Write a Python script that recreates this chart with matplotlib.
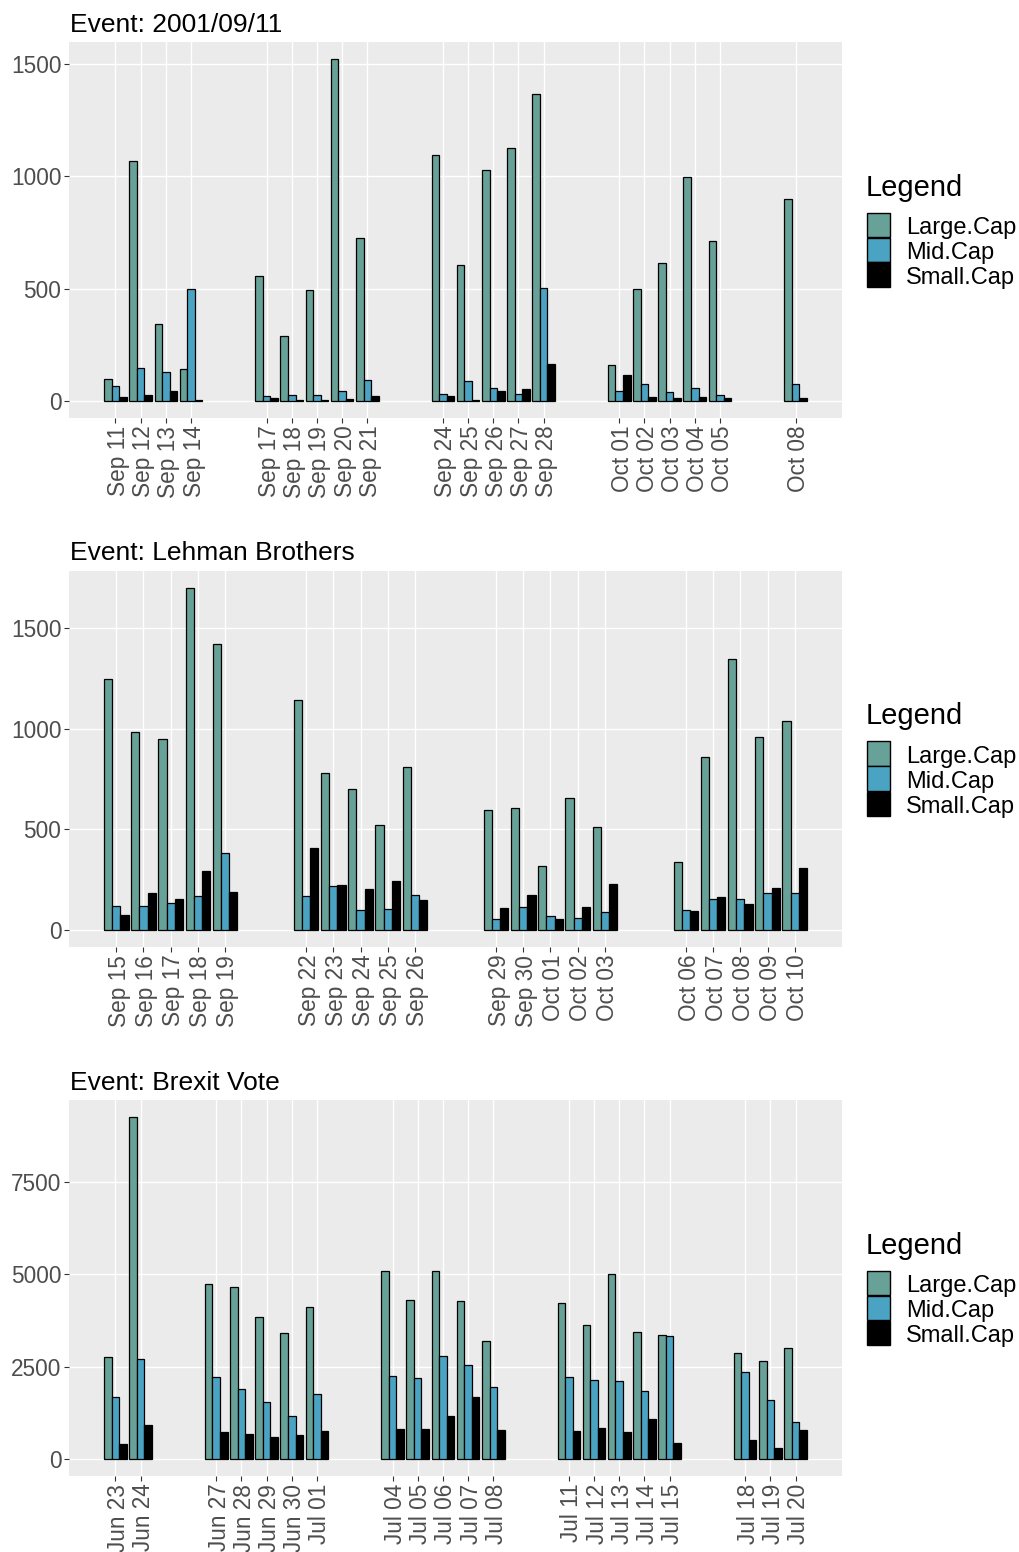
import matplotlib
matplotlib.use("Agg")
import matplotlib.pyplot as plt
import matplotlib.dates as mdates
import matplotlib.transforms as mtransforms
from matplotlib.patches import Rectangle
import numpy as np
from datetime import date

plt.rcParams['font.family'] = ['Liberation Sans', 'DejaVu Sans']

# ---- Event: 2001/09/11 ----
dates_911 = ["2001-09-11", "2001-09-12", "2001-09-13", "2001-09-14",
             "2001-09-17", "2001-09-18", "2001-09-19", "2001-09-20", "2001-09-21",
             "2001-09-24", "2001-09-25", "2001-09-26", "2001-09-27", "2001-09-28",
             "2001-10-01", "2001-10-02", "2001-10-03", "2001-10-04", "2001-10-05",
             "2001-10-08"]
large_911 = [96, 1069, 341, 140, 557, 287, 495, 1521, 726,
             1095, 606, 1027, 1126, 1364, 160, 500, 615, 995, 711, 897]
mid_911 = [66, 148, 130, 498, 21, 28, 27, 43, 93,
           30, 90, 59, 30, 501, 44, 74, 41, 59, 28, 77]
small_911 = [18, 28, 43, 5, 13, 5, 5, 7, 24,
             21, 4, 46, 55, 166, 115, 16, 12, 18, 12, 12]

# ---- Event: Lehman Brothers ----
dates_lehman = ["2008-09-15", "2008-09-16", "2008-09-17", "2008-09-18", "2008-09-19",
                "2008-09-22", "2008-09-23", "2008-09-24", "2008-09-25", "2008-09-26",
                "2008-09-29", "2008-09-30", "2008-10-01", "2008-10-02", "2008-10-03",
                "2008-10-06", "2008-10-07", "2008-10-08", "2008-10-09", "2008-10-10"]
large_lehman = [1249, 982, 947, 1700, 1424, 1142, 779, 701, 523, 809,
                597, 604, 317, 657, 513, 340, 860, 1345, 959, 1040]
mid_lehman = [120, 120, 135, 170, 381, 167, 216, 99, 102, 175,
              54, 114, 68, 61, 87, 99, 153, 152, 183, 183]
small_lehman = [73, 185, 153, 294, 188, 406, 223, 203, 241, 147,
                111, 173, 53, 112, 228, 92, 162, 129, 208, 310]

# ---- Event: Brexit Vote ----
dates_brexit = ["2016-06-23", "2016-06-24",
                "2016-06-27", "2016-06-28", "2016-06-29", "2016-06-30", "2016-07-01",
                "2016-07-04", "2016-07-05", "2016-07-06", "2016-07-07", "2016-07-08",
                "2016-07-11", "2016-07-12", "2016-07-13", "2016-07-14", "2016-07-15",
                "2016-07-18", "2016-07-19", "2016-07-20"]
large_brexit = [2760, 9260, 4729, 4657, 3848, 3398, 4117,
                5088, 4306, 5088, 4270, 3182,
                4225, 3632, 5016, 3434, 3362, 2859, 2643, 2994]
mid_brexit = [1690, 2706, 2212, 1888, 1555, 1169, 1771,
              2248, 2185, 2778, 2553, 1951,
              2230, 2131, 2113, 1852, 3317, 2364, 1600, 989]
small_brexit = [405, 908, 728, 674, 602, 638, 755,
                800, 800, 1151, 1681, 791,
                746, 827, 737, 1070, 440, 521, 297, 773]

titles = ["Event: 2001/09/11", "Event: Lehman Brothers", "Event: Brexit Vote"]
series_names = ["Large.Cap", "Mid.Cap", "Small.Cap"]
series_colors = ["#68A197", "#4BA3C3", "#000000"]
yticks_list = [[0, 500, 1000, 1500], [0, 500, 1000, 1500], [0, 2500, 5000, 7500]]

events = [
    (dates_911, large_911, mid_911, small_911),
    (dates_lehman, large_lehman, mid_lehman, small_lehman),
    (dates_brexit, large_brexit, mid_brexit, small_brexit),
]

W, H = 1019, 1552
fig = plt.figure(figsize=(W / 100, H / 100), dpi=100)
fig.patch.set_facecolor("white")


def fx(px):
    return px / W


def fy(py):
    return 1 - py / H


step = 529
bar_w = 0.3
offsets = [-bar_w, 0.0, bar_w]
label_shift = mtransforms.ScaledTranslation(3 / 100, 0, fig.dpi_scale_trans)

for i, (ev, title, yt) in enumerate(zip(events, titles, yticks_list)):
    dstr, large, mid, small = ev
    x = mdates.date2num([date.fromisoformat(d) for d in dstr])
    top = 42 + step * i
    bottom = 418 + step * i
    ax = fig.add_axes([fx(69), fy(bottom), (842 - 69) / W, (bottom - top) / H])
    ax.set_facecolor("#EBEBEB")
    for vals, off, col, name in zip([large, mid, small], offsets, series_colors, series_names):
        ax.bar(x + off, vals, width=bar_w, color=col, edgecolor="black",
               linewidth=0.9, label=name, zorder=3)
    # limits with 5% padding like the default continuous expansion
    lo, hi = x.min() - 0.45, x.max() + 0.45
    pad = 0.05 * (hi - lo)
    ax.set_xlim(lo - pad, hi + pad)
    ymax = max(max(large), max(mid), max(small))
    ax.set_ylim(-0.05 * ymax, 1.05 * ymax)
    ax.set_xticks(x)
    ax.xaxis.set_major_formatter(mdates.DateFormatter("%b %d"))
    ax.set_yticks(yt)
    ax.set_yticklabels([str(v) for v in yt])
    ax.tick_params(axis="both", length=3.5, width=0.8, color="#333333",
                   labelcolor="#4D4D4D", labelsize=16.3, pad=2)
    for lab in ax.get_xticklabels():
        lab.set_rotation(90)
        lab.set_ha("center")
        lab.set_va("top")
        lab.set_transform(lab.get_transform() + label_shift)
    ax.grid(True, color="white", linewidth=1.0, zorder=0)
    ax.set_axisbelow(True)
    for s in ax.spines.values():
        s.set_visible(False)

    fig.text(fx(70), fy(31.5 + step * i), title, ha="left", va="baseline",
             fontsize=19, color="black")

    # legend block: title, colour keys and labels
    oy = step * i
    fig.text(fx(866), fy(195.5 + oy), "Legend", ha="left", va="baseline",
             fontsize=21, color="black")
    key_top = 212.5
    key_h = 25.0
    for k, (col, name) in enumerate(zip(series_colors, series_names)):
        ytop = key_top + k * key_h + oy
        fig.patches.append(Rectangle((fx(867), fy(ytop + key_h - 1)), 23 / W, (key_h - 1) / H,
                                     transform=fig.transFigure, facecolor=col,
                                     edgecolor="black", linewidth=1.0))
        fig.text(fx(906), fy(ytop + 21.5), name, ha="left", va="baseline",
                 fontsize=17, color="black")

fig.savefig("out.png", dpi=100, facecolor="white")
